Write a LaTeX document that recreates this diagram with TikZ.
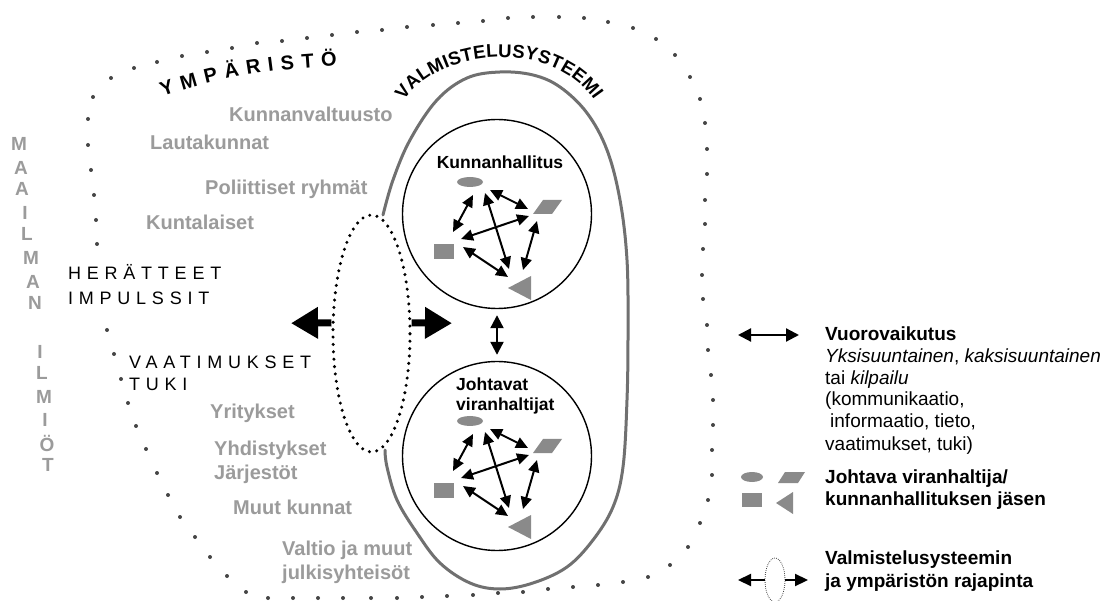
\documentclass[tikz,border=0pt]{standalone}
\usepackage{fontspec}
\setmainfont{Liberation Sans}
\newfontfamily\spacedfont[LetterSpace=32]{Liberation Sans}
\usetikzlibrary{arrows.meta,shapes.geometric,decorations.text}

\definecolor{txtgray}{HTML}{9B9B9B}
\definecolor{linegray}{HTML}{707070}
\definecolor{shapegray}{HTML}{8A8A8A}
\definecolor{dotgray}{HTML}{454545}

\tikzset{
  graylbl/.style={anchor=base west, inner sep=0pt, text=txtgray,
    font=\bfseries\fontsize{20}{24}\selectfont},
  worldltr/.style={inner sep=0pt, text=txtgray, font=\bfseries\fontsize{19}{19}\selectfont},
  caplbl/.style={anchor=base west, inner sep=0pt, font=\spacedfont\fontsize{18}{18}\selectfont},
  legtxt/.style={anchor=base west, inner sep=0pt, font=\fontsize{19}{22}\selectfont},
  legbold/.style={anchor=base west, inner sep=0pt, font=\bfseries\fontsize{19}{22}\selectfont},
  grouplbl/.style={inner sep=0pt, font=\bfseries\fontsize{17.5}{20}\selectfont},
  groupring/.style={circle, draw, line width=1.4pt, minimum size=189pt, inner sep=0pt},
  memb/.style={fill=shapegray, draw=none, inner sep=0pt},
  web/.style={line width=2pt, {Triangle[length=12pt,width=11pt]}-{Triangle[length=12pt,width=11pt]}},
  bigarrow/.style={line width=7pt, -{Triangle[length=27pt,width=30pt]}},
  twoway/.style={line width=2.2pt, {Triangle[length=13pt,width=13pt]}-{Triangle[length=13pt,width=13pt]}},
  oneway/.style={line width=2.2pt, -{Triangle[length=13pt,width=12pt]}},
}

% members of a group with their mutual interactions
\newcommand{\memberweb}[1]{%
  \node[memb, ellipse, minimum width=26pt, minimum height=10pt] (#1-ell) at (470,-182) {};
  \node[memb, rectangle, minimum width=20pt, minimum height=15pt] (#1-sq) at (444,-251.5) {};
  \fill[shapegray] (543,-200) -- (562,-200) -- (552,-214) -- (533,-214) -- cycle;
  \fill[shapegray] (508,-288) -- (531,-276) -- (531,-300) -- cycle;
  \foreach \n/\ax/\ay/\bx/\by in {a/473/195/453/232, b/485/193/509/269,
      c/490/190/528/209, d/529/216/461/239, e/537/221/523/270, f/463/247/508/277}{
    \coordinate (#1-\n1) at (\ax,-\ay);
    \coordinate (#1-\n2) at (\bx,-\by);
    \draw[web] (#1-\n1) -- (#1-\n2);
  }%
}

\begin{document}
\begin{tikzpicture}[x=1pt,y=1pt]
\fill[white] (0,0) rectangle (1106,-601);
\useasboundingbox (0,0) rectangle (1106,-601);

% environment boundary (dotted)
\foreach \x/\y in {97/244, 96/220, 94/195, 91/170, 88/145, 88/119, 93/97, 111/78,
  134/68, 157/62, 182/56, 207/52, 232/48, 257/43, 282/41, 307/38, 332/35, 357/32,
  382/30, 407/27, 433/25, 458/23, 483/21, 508/18, 533/17, 559/17, 584/18, 608/22,
  633/28, 656/39, 675/55, 690/77, 700/99, 705/123, 707/149, 707/174, 705/200,
  705/224, 703/249, 702/275, 703/299, 707/325, 708/350, 711/375, 713/400, 713/425,
  712/450, 712/475, 708/500, 700/523, 688/547, 670/565, 648/577, 623/582, 598/585,
  573/587, 548/589, 523/592, 498/593, 473/595, 447/596, 422/597, 397/598, 371/598,
  343/598, 318/598, 293/598, 268/598, 246/592, 227/576, 210/557, 195/537, 180/517,
  168/495, 157/473, 146/449, 136/426, 128/403, 121/379, 114/354, 107/330}
  \fill[dotgray] (\x,-\y) circle (2);

% preparation system outline
\draw[linegray, line width=3pt, line cap=round] plot[smooth, tension=0.6] coordinates {
  (385,-450) (387,-467) (397,-500) (417,-533) (440,-563) (470,-583) (500,-589)
  (533,-583) (567,-567) (593,-540) (613,-507) (623,-467) (627,-400) (628,-333)
  (627,-260) (620,-200) (607,-150) (587,-113) (560,-87) (533,-75) (500,-72)
  (467,-78) (437,-100) (410,-140) (393,-180) (383,-215)};

% interface between system and environment
\node[ellipse, draw, line width=3.4pt, dash pattern=on 0pt off 7.4pt, line cap=round,
  minimum width=77pt, minimum height=237pt, inner sep=0pt] (iface) at (371.5,-333.5) {};
\coordinate (outtip) at (291,-323.2);
\coordinate (intip) at (452,-323.2);
\draw[bigarrow] (iface.165) -- (outtip);
\draw[bigarrow] (iface.15) -- (intip);

% curved headings
\path[decorate, decoration={text along path, text align=fit to path,
  text={|\bfseries\fontsize{20}{20}\selectfont|YMPÄRISTÖ}}]
  (163,-97) .. controls (215,-77) and (280,-68) .. (337,-66);
\path[decorate, decoration={text along path, text align=fit to path,
  text={|\bfseries\fontsize{18.5}{18.5}\selectfont|VALMISTELUSYSTEEMI}}]
  (404,-101) .. controls (438,-48) and (552,-38) .. (594,-100);

% the two groups
\node[groupring] (kh) at (497,-214) {};
\node[groupring] (jv) at (497,-456) {};
\node[grouplbl, anchor=base] (khlbl) at (500,-169) {Kunnanhallitus};
\node[grouplbl, anchor=base west] (jvlbl1) at (456,-391) {Johtavat};
\node[grouplbl, anchor=base west] (jvlbl2) at (456,-411) {viranhaltijat};
\memberweb{k}
\begin{scope}[shift={(0,-239)}]
  \memberweb{j}
\end{scope}
\draw[twoway, shorten <=6pt, shorten >=6pt] (kh.south) -- (jv.north);

% world phenomena (vertical lettering)
\foreach \c/\x/\y [count=\i] in {M/19/144, A/21/168, A/22/189, I/25/213, L/27/234,
  M/31/258, A/33/282, N/35/303, I/40/352, L/42/373, M/44/397, I/45/420, Ö/47/443, T/48/465}
  \node[worldltr] (w\i) at (\x,-\y) {\c};

% actors of the environment
\node[graylbl] (g1) at (229,-122) {Kunnanvaltuusto};
\node[graylbl] (g2) at (150,-150) {Lautakunnat};
\node[graylbl] (g3) at (205,-195) {Poliittiset ryhmät};
\node[graylbl] (g4) at (146,-230) {Kuntalaiset};
\node[graylbl] (g5) at (210,-419) {Yritykset};
\node[graylbl] (g6) at (214,-455) {Yhdistykset};
\node[graylbl] (g7) at (214,-479) {Järjestöt};
\node[graylbl] (g8) at (233,-514) {Muut kunnat};
\node[graylbl] (g9) at (282,-555) {Valtio ja muut};
\node[graylbl] (g10) at (282,-579) {julkisyhteisöt};

% inputs
\node[caplbl] (c1) at (68,-280) {HERÄTTEET};
\node[caplbl] (c2) at (68,-305) {IMPULSSIT};
\node[caplbl] (c3) at (129,-369) {VAATIMUKSET};
\node[caplbl] (c4) at (129,-391) {TUKI};

% legend: interaction
\coordinate (lga) at (738,-335);
\coordinate (lgb) at (799,-335);
\draw[twoway] (lga) -- (lgb);
\node[legbold] (l1) at (825,-341) {Vuorovaikutus};
\node[legtxt] (l2) at (825,-363) {{\itshape Yksisuuntainen}, {\itshape kaksisuuntainen}};
\node[legtxt] (l3) at (825,-385) {tai {\itshape kilpailu}};
\node[legtxt] (l4) at (825,-406) {(kommunikaatio,};
\node[legtxt] (l5) at (830,-428) {informaatio, tieto,};
\node[legtxt] (l6) at (825,-450) {vaatimukset, tuki)};

% legend: members
\node[memb, ellipse, minimum width=22pt, minimum height=10pt] (lgell) at (752,-477) {};
\fill[shapegray] (785,-472) -- (805,-472) -- (798,-483) -- (778,-483) -- cycle;
\node[memb, rectangle, minimum width=20pt, minimum height=14pt] (lgsq) at (752,-500) {};
\fill[shapegray] (776,-503) -- (793,-492) -- (793,-514) -- cycle;
\node[legbold] (l7) at (825,-483) {Johtava viranhaltija/};
\node[legbold] (l8) at (825,-505) {kunnanhallituksen jäsen};

% legend: interface
\node[ellipse, draw=dotgray, line width=0.8pt, dash pattern=on 0.8pt off 1.2pt,
  minimum width=20pt, minimum height=44pt, inner sep=0pt] (lgif) at (775,-580) {};
\coordinate (lgl) at (738,-580);
\coordinate (lgr) at (808,-580);
\draw[oneway] (lgif.west) -- (lgl);
\draw[oneway] (lgif.east) -- (lgr);
\node[legbold] (l9) at (825,-564) {Valmistelusysteemin};
\node[legbold] (l10) at (825,-587) {ja ympäristön rajapinta};
\end{tikzpicture}
\end{document}
